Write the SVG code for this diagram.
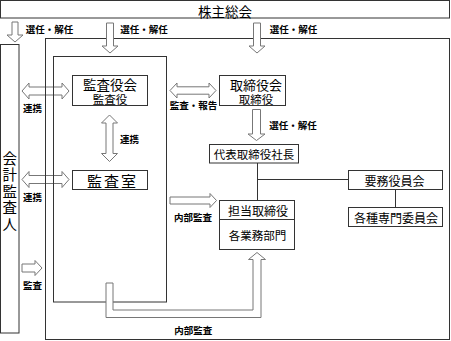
<svg xmlns="http://www.w3.org/2000/svg" width="451" height="341" viewBox="0 0 451 341">
<style>
.box{fill:#fff;stroke:#333;stroke-width:1}
.frame{fill:none;stroke:#333;stroke-width:1}
.arr{fill:#fff;stroke:#777;stroke-width:1}
.ln{fill:none;stroke:#333;stroke-width:1}
text{font-family:"Noto Sans CJK JP","Noto Sans CJK SC",sans-serif;fill:#000;text-anchor:middle;dominant-baseline:central}
.lbl{font-size:9.5px;font-weight:bold}
.t12{font-size:12px}
.t14{font-size:13.5px}
</style>
<rect width="451" height="341" fill="#fff"/>
<g id="connectors">
  <polygon class="arr" points="22,91 29,83 29,87 62,87 62,83 69,91 62,99 62,95 29,95 29,99"/>
  <polygon class="arr" points="22,179.5 29,171.5 29,175.5 62,175.5 62,171.5 69,179.5 62,187.5 62,183.5 29,183.5 29,187.5"/>
  <polygon class="arr" points="22,264 35,264 35,260.5 42,268 35,275.5 35,272 22,272"/>
</g>
<g id="outer-frame"><rect class="frame" x="45.5" y="38.5" width="404" height="301"/></g>
<g id="audit-container"><rect class="frame" x="53.5" y="56.5" width="113" height="245.5"/></g>
<g id="connectors2">
  <polygon class="arr" points="12,22 18,22 18,35 23,35 15,42 7,35 12,35"/>
  <polygon class="arr" points="106.5,23 113.5,23 113.5,46 118,46 110,53 102,46 106.5,46"/>
  <polygon class="arr" points="253.5,23 260.5,23 260.5,46 265,46 257,53 249,46 253.5,46"/>
  <polygon class="arr" points="252.5,109.5 260.5,109.5 260.5,134 265,134 256.5,140.5 248,134 252.5,134"/>
  <polygon class="arr" points="109.5,115 117.5,123 113,123 113,153.5 117.5,153.5 109.5,161.5 101.5,153.5 106,153.5 106,123 101.5,123"/>
  <polygon class="arr" points="170,90.5 177,83 177,86.8 209,86.8 209,83 216,90.5 209,98 209,94.2 177,94.2 177,98"/>
  <polygon class="arr" points="170,197 210,197 210,193.5 216.5,200.5 210,207.5 210,204 170,204"/>
  <polygon class="arr" points="106,283 113,283 113,310 253,310 253,259.5 248.5,259.5 257,252.5 265.5,259.5 261,259.5 261,317.5 106,317.5"/>
  <line class="ln" x1="257.5" y1="163" x2="257.5" y2="200.5"/>
  <line class="ln" x1="257.5" y1="179.5" x2="348.5" y2="179.5"/>
  <line class="ln" x1="395.5" y1="189.5" x2="395.5" y2="207.5"/>
  <text class="lbl" x="49.5" y="29">選任・解任</text>
  <text class="lbl" x="144" y="29">選任・解任</text>
  <text class="lbl" x="293.5" y="29">選任・解任</text>
  <text class="lbl" x="293" y="125">選任・解任</text>
  <text class="lbl" x="32.5" y="107.5">連携</text>
  <text class="lbl" x="32.5" y="196.5">連携</text>
  <text class="lbl" x="32.5" y="285">監査</text>
  <text class="lbl" x="129.5" y="139">連携</text>
  <text class="lbl" x="193.5" y="105">監査・報告</text>
  <text class="lbl" x="193" y="216.5">内部監査</text>
  <text class="lbl" x="193.3" y="330">内部監査</text>
</g>
<g id="shareholders">
  <rect class="box" x="0.5" y="0.5" width="449" height="17.5"/>
  <text class="t14" x="225" y="10.5">株主総会</text>
</g>
<g id="accounting-auditor">
  <rect class="box" x="0.5" y="44.5" width="18.5" height="288.5"/>
  <text font-size="14.5" x="9.8" y="192" writing-mode="vertical-rl" letter-spacing="2">会計監査人</text>
</g>
<g id="audit-board">
  <rect class="box" x="72.5" y="75.5" width="75" height="30"/>
  <text x="110" y="84" font-size="13.5">監査役会</text>
  <text x="110" y="98.5" font-size="11.5">監査役</text>
</g>
<g id="audit-office">
  <rect class="box" x="72.5" y="170.5" width="75" height="19"/>
  <text font-size="15" letter-spacing="2" x="112.5" y="180">監査室</text>
</g>
<g id="board">
  <rect class="box" x="219.5" y="75.5" width="66" height="30"/>
  <text x="256" y="84" font-size="13">取締役会</text>
  <text x="256" y="98.5" font-size="11.5">取締役</text>
</g>
<g id="president">
  <rect class="box" x="209.5" y="144.5" width="89" height="18.5"/>
  <text font-size="11.5" x="254" y="154">代表取締役社長</text>
</g>
<g id="exec-committee">
  <rect class="box" x="348.5" y="170.5" width="94" height="19"/>
  <text class="t12" x="394.5" y="180">要務役員会</text>
</g>
<g id="special-committees">
  <rect class="box" x="348.5" y="207.5" width="94" height="19"/>
  <text class="t12" x="396" y="217.5">各種専門委員会</text>
</g>
<g id="departments">
  <rect class="box" x="219.5" y="200.5" width="75" height="49"/>
  <line class="ln" x1="219.5" y1="219.5" x2="294.5" y2="219.5"/>
  <text class="t12" x="258" y="210.5">担当取締役</text>
  <text font-size="11.5" x="257.5" y="235">各業務部門</text>
</g>
</svg>
